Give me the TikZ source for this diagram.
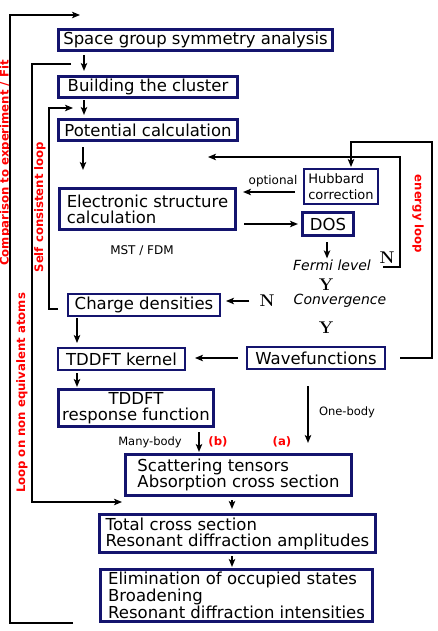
\documentclass[tikz,border=0pt]{standalone}
\usepackage{fontspec}
\setmainfont{DejaVu Sans}
\newfontfamily\lmr{Latin Modern Roman}
\usetikzlibrary{arrows.meta}
\definecolor{navy}{RGB}{20,20,110}
\begin{document}
\begin{tikzpicture}[x=1pt,y=-1pt,
  box/.style={draw=navy, line width=2.6pt, inner sep=0pt, align=left, font=\fontsize{16.5}{16}\selectfont},
  thinbox/.style={box, line width=2pt},
  arr/.style={line width=1.4pt, -{Stealth[length=8pt,width=6.5pt,inset=2pt]}},
  small/.style={inner sep=0pt, font=\fontsize{12}{12}\selectfont},
  lbl/.style={inner sep=0pt, text=red, font=\bfseries\fontsize{11.7}{11.7}\selectfont},
  yn/.style={inner sep=0pt, font=\lmr\bfseries\fontsize{17}{17}\selectfont},
  it/.style={inner sep=0pt, font=\itshape\fontsize{14}{14}\selectfont}]
\useasboundingbox (0,0) rectangle (438,631);
\fill[white] (0,0) rectangle (438,631);

% boxes
\node[box, minimum width=274, minimum height=21.5] (sg) at (195.5,40) {Space group symmetry analysis};
\node[box, minimum width=179.5, minimum height=21.5] (bc) at (148,87) {Building the cluster};
\node[box, minimum width=179.5, minimum height=21.5] (pc) at (148,130) {Potential calculation};
\node[box, minimum width=176.5, minimum height=41.5] (es) at (147.5,209) {Electronic structure\\calculation};
\node[thinbox, minimum width=74, minimum height=35, font=\fontsize{13}{16}\selectfont] (hub) at (341,186.5) {Hubbard\\correction};
\node[box, minimum width=51.5, minimum height=23.5] (dos) at (328,224) {DOS};
\node[thinbox, minimum width=152, minimum height=22] (cd) at (144,305) {Charge densities};
\node[thinbox, minimum width=127, minimum height=22] (tk) at (121.5,359) {TDDFT kernel};
\node[thinbox, minimum width=138, minimum height=22] (wf) at (316,358) {Wavefunctions};
\node[box, align=center, minimum width=155.5, minimum height=37.5, font=\fontsize{16.5}{16.5}\selectfont] (tr) at (136,408) {TDDFT\\response function};
\node[box, minimum width=226.5, minimum height=41.5] (st) at (238.5,475) {Scattering tensors\\Absorption cross section};
\node[box, minimum width=276.5, minimum height=38.5] (tc) at (237.5,533.5) {Total cross section\\Resonant diffraction amplitudes};
\node[box, minimum width=272.5, minimum height=52.5, font=\fontsize{16.5}{15.7}\selectfont] (el) at (236.5,595.5) {Elimination of occupied states\\Broadening\\Resonant diffraction intensities};

% plain labels
\node[small] (mst) at (142,251) {MST / FDM};
\node[small] (opt) at (273,181) {optional};
\node[it] (fermi) at (332,265) {Fermi level};
\node[it] (conv) at (340,301) {Convergence};
\node[yn] (n1) at (387,258) {N};
\node[yn] (n2) at (267,301) {N};
\node[yn] (y1) at (326,285) {Y};
\node[yn] (y2) at (326,328) {Y};
\node[small, font=\fontsize{11.5}{11.5}\selectfont] (mb) at (150,442) {Many-body};
\node[small, font=\fontsize{11.5}{11.5}\selectfont] (ob) at (347,412) {One-body};
\node[lbl] (lb) at (218,442) {(b)};
\node[lbl] (la) at (282,442) {(a)};
\node[lbl, rotate=90] (cmp) at (5.5,163) {Comparison to experiment / Fit};
\node[lbl, rotate=90] (scl) at (40,207) {Self consistent loop};
\node[lbl, rotate=90] (lna) at (22,393) {Loop on non equivalent atoms};
\node[lbl, rotate=-90] (en) at (418,214) {energy loop};

% coordinates
\coordinate (xa) at (84,0);
\coordinate (xb) at (83,0);
\coordinate (xc) at (327,0);
\coordinate (xd) at (77,0);
\coordinate (xe) at (199,0);
\coordinate (xf) at (308,0);
\coordinate (xg) at (232,0);
\coordinate (xh) at (351,0);
\coordinate (yo) at (0,192);
\coordinate (nr) at (383,267);
\coordinate (rt) at (208,157);
\coordinate (eR) at (432,142);
\coordinate (scb) at (58,309);
\coordinate (sc) at (73,108);
\coordinate (na) at (71,64);
\coordinate (nb) at (122,502);
\coordinate (ca) at (73,623);
\coordinate (cb) at (80,15);

% connectors
\draw[arr, shorten <=3pt, shorten >=4pt] (sg.south -| xa) -- (bc.north -| xa);
\draw[arr, shorten <=1pt, shorten >=3pt] (bc.south -| xa) -- (pc.north -| xa);
\draw[arr, shorten <=5pt, shorten >=17pt] (pc.south -| xb) -- (es.north -| xb);
\draw[arr] (nr) -- ++(17,0) |- (rt);
\draw[arr, shorten <=8pt, shorten >=6pt] (hub.west |- yo) -- (es.east |- yo);
\draw[arr, shorten <=7pt, shorten >=3pt] (es.east |- dos.west) -- (dos.west);
\draw[arr, shorten <=5pt, shorten >=1pt] (dos.south -| xc) -- (fermi.north -| xc);
\draw[arr, shorten <=10pt, shorten >=5pt] (n2.west) -- (cd.east |- n2.west);
\draw[arr, shorten <=8pt, shorten >=9pt] (wf.west) -- (tk.east |- wf.west);
\draw[arr, shorten <=1pt, shorten >=4pt] (cd.south -| xd) -- (tk.north -| xd);
\draw[arr, shorten <=2pt, shorten >=1pt] (tk.south -| xd) -- (tr.north -| xd);
\draw[arr, shorten <=4pt, shorten >=1pt] (tr.south -| xe) -- (st.north -| xe);
\draw[arr, shorten <=16pt, shorten >=10pt] (wf.south -| xf) -- (st.north -| xf);
\draw[arr, shorten <=3pt, shorten >=4pt] (st.south -| xg) -- (tc.north -| xg);
\draw[arr, shorten <=2pt, shorten >=1pt] (tc.south -| xg) -- (el.north -| xg);
\draw[arr, shorten <=14pt, shorten >=1pt] (wf.east) -| (eR) -| (hub.north -| xh);
\draw[arr] (scb) -- ++(-9,0) |- (sc);
\draw[arr] (na) -- ++(-39,0) |- (nb);
\draw[arr] (ca) -- ++(-63,0) |- (cb);
\end{tikzpicture}
\end{document}
